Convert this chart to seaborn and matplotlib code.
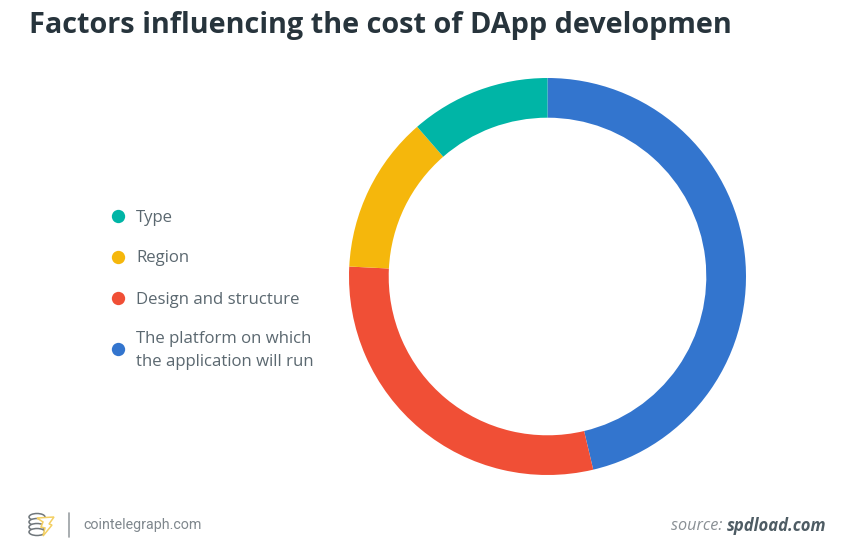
import matplotlib
matplotlib.use("Agg")
import matplotlib.pyplot as plt
from matplotlib.patches import Ellipse, Polygon
import seaborn as sns

TITLE = "Factors influencing the cost of DApp developmen"
labels = ["Type", "Region", "Design and structure",
          "The platform on which\nthe application will run"]
shares = [11.4, 12.8, 29.5, 46.3]
colors = ["#00B5A6", "#F5B70C", "#F04F36", "#3375CE"]
TEXT = "#5B6870"

sns.set_theme(style="white")
plt.rcParams["font.family"] = ["Open Sans", "DejaVu Sans"]
W, H = 847, 551
fig = plt.figure(figsize=(W / 100, H / 100), dpi=100, facecolor="white")

# donut, clockwise from the top, largest first
cx, cy, r = 547.5, 276.5, 198.5
ax = fig.add_axes([(cx - r) / W, 1 - (cy + r) / H, 2 * r / W, 2 * r / H])
ax.pie(shares[::-1], colors=colors[::-1], startangle=90, counterclock=False,
       radius=1, wedgeprops=dict(width=0.2, linewidth=0))
ax.set_xlim(-1, 1)
ax.set_ylim(-1, 1)

fig.text(29 / W, 1 - 25 / H, TITLE, fontsize=20.75, fontweight="bold",
         color="#27343C", va="center", ha="left")
fig.text(83 / W, 1 - 525 / H, "cointelegraph.com", family="Roboto", fontsize=10.3,
         color="#7F878D", va="center", ha="left")
src = fig.text(671 / W, 1 - 526 / H, "source: ", fontsize=11.7, style="italic",
               color="#8A9095", va="center", ha="left")
fig.canvas.draw()
bb = src.get_window_extent()
fig.text(bb.x1 / W, 1 - 526 / H, "spdload.com", fontsize=12, style="italic",
         fontweight="bold", color="#4E5C64", va="center", ha="left")

# overlay in pixel units: legend key, footer logo and divider
ov = fig.add_axes([0, 0, 1, 1], facecolor="none")
ov.set_xlim(0, W)
ov.set_ylim(H, 0)
ov.axis("off")
legend_rows = [216, 257, 298, 349]
for row, lab, col in zip(legend_rows, labels, colors):
    ov.scatter([117.5], [row], s=92, color=col, linewidths=0)
    ov.text(136, row + 1.5, lab, fontsize=12.05, color=TEXT, va="center", ha="left",
            linespacing=1.55)

ov.plot([69, 69], [513, 537], color="#9A9FA3", lw=1.2)
for y in (517, 522, 527, 532):
    ov.add_patch(Ellipse((37, y), 16, 7, facecolor="white", edgecolor="#6F767B", lw=1.1))
ov.add_patch(Polygon([(37, 518), (54, 517), (49, 524), (52, 525), (43, 536),
                      (45, 528), (41, 527), (43, 522)],
                     facecolor="white", edgecolor="#F3CF63", lw=1.1))
fig.savefig("out.png", dpi=100, facecolor="white")
